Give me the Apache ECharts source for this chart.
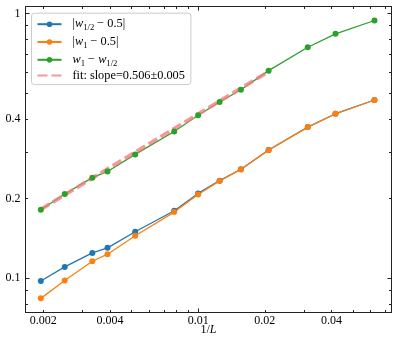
<!DOCTYPE html>
<html>
<head>
<meta charset="utf-8">
<script src="https://cdn.jsdelivr.net/npm/echarts@6/dist/echarts.min.js"></script>
<style>
html,body{margin:0;padding:0;background:#fff;}
#c{width:399px;height:349px;}
</style>
</head>
<body>
<div id="c"></div>
<script>
// ---- data ----
var invL = [0.00195, 0.0025, 0.00333, 0.0039, 0.0052, 0.0078, 0.01, 0.0125, 0.0156, 0.0208, 0.03125, 0.0417, 0.0625];
var wHalf = [0.0976, 0.1103, 0.1246, 0.1302, 0.1497, 0.1798, 0.209, 0.2335, 0.258, 0.305, 0.372, 0.418, 0.471];
var wOne = [0.0839, 0.098, 0.1159, 0.1232, 0.1446, 0.1777, 0.207, 0.233, 0.2575, 0.3045, 0.3721, 0.4178, 0.471];
var wDiff = [0.1813, 0.208, 0.2397, 0.253, 0.2935, 0.358, 0.4124, 0.4628, 0.515, 0.608, 0.745, 0.8374, 0.9403];
var fitX = [0.00195, 0.0208];
var fitY = [0.182, 0.603];

var xLabelVals = [0.002, 0.004, 0.01, 0.02, 0.04];
var xMajorTicks = [0.01];
var xMinorTicks = [0.002, 0.003, 0.004, 0.005, 0.006, 0.007, 0.008, 0.009, 0.02, 0.03, 0.04, 0.05, 0.06, 0.07];
var yLabelVals = [0.1, 0.2, 0.4, 1];
var yMajorTicks = [0.1, 1];
var yMinorTicks = [0.08, 0.09, 0.2, 0.3, 0.4, 0.5, 0.6, 0.7, 0.8, 0.9];

var seriesNames = ['|w1/2 - 0.5|', '|w1 - 0.5|', 'w1 - w1/2', 'fit: slope=0.506±0.005'];
var legendRich = [
  '{n||}{i|w}{s|1/2}{n| \u2212 0.5|}',
  '{n||}{i|w}{s|1}{n| \u2212 0.5|}',
  '{i|w}{s|1}{n| \u2212 }{i|w}{s|1/2}',
  '{n|fit: slope=0.506±0.005}'
];
// ---------------------------------------

var FONT = 'Liberation Serif';
var AX = '#222';
var xMin = 0.001663, xMax = 0.0746, yMin = 0.0742, yMax = 1.062;

function pairs(xs, ys){ return xs.map(function(x,i){ return [x, ys[i]]; }); }
function fmt(v){ return String(+v.toPrecision(6)); }

function xAx(pos, ticks, len, opts){
  var a = {
    type: 'log', logBase: 10, position: pos, min: xMin, max: xMax,
    gridIndex: 0,
    axisLine: {show: !!opts.line, lineStyle: {color: AX, width: 1}},
    axisTick: {show: true, inside: true, length: len, customValues: ticks, lineStyle: {color: AX, width: 1}},
    axisLabel: {show: false},
    splitLine: {show: false}, minorTick: {show: false}, minorSplitLine: {show: false}
  };
  if (opts.labels) {
    a.axisLabel = {show: true, customValues: xLabelVals, formatter: fmt, margin: 2,
      fontFamily: FONT, fontSize: 12, color: '#000', lineHeight: 12};
  }
  if (opts.name) {
    a.name = '1/{i|L}';
    a.nameLocation = 'middle';
    a.nameGap = 11.5;
    a.nameMoveOverlap = false;
    a.nameTextStyle = {fontFamily: FONT, fontSize: 12, color: '#000', lineHeight: 12,
      rich: {i: {fontStyle: 'italic', fontFamily: FONT, fontSize: 12, color: '#000', lineHeight: 12}}};
  }
  return a;
}
function yAx(pos, ticks, len, opts){
  var a = {
    type: 'log', logBase: 10, position: pos, min: yMin, max: yMax,
    gridIndex: 0,
    axisLine: {show: !!opts.line, lineStyle: {color: AX, width: 1}},
    axisTick: {show: true, inside: true, length: len, customValues: ticks, lineStyle: {color: AX, width: 1}},
    axisLabel: {show: false},
    splitLine: {show: false}, minorTick: {show: false}, minorSplitLine: {show: false}
  };
  if (opts.labels) {
    a.axisLabel = {show: true, customValues: yLabelVals, formatter: fmt, margin: 5,
      fontFamily: FONT, fontSize: 12, color: '#000'};
  }
  return a;
}

var chart = echarts.init(document.getElementById('c'), null, {renderer: 'canvas'});
var lineW = 1.3, symS = 6;
function dataSeries(name, ys, color){
  return {
    name: name, type: 'line', data: pairs(invL, ys),
    symbol: 'circle', symbolSize: symS, showSymbol: true,
    lineStyle: {color: color, width: lineW},
    itemStyle: {color: color},
    emphasis: {disabled: true}, silent: true
  };
}

chart.setOption({
  animation: false,
  backgroundColor: '#fff',
  grid: {left: 25.5, right: 7.5, top: 6.5, bottom: 36.5, containLabel: false, outerBoundsMode: 'none'},
  xAxis: [
    xAx('bottom', xMajorTicks, 4, {line: true, labels: true, name: true}),
    xAx('bottom', xMinorTicks, 2.5, {}),
    xAx('top', xMajorTicks, 4, {line: true}),
    xAx('top', xMinorTicks, 2.5, {})
  ],
  yAxis: [
    yAx('left', yMajorTicks, 4, {line: true, labels: true}),
    yAx('left', yMinorTicks, 2.5, {}),
    yAx('right', yMajorTicks, 4, {line: true}),
    yAx('right', yMinorTicks, 2.5, {})
  ],
  legend: {
    show: true, orient: 'vertical', left: 31.5, top: 13.2,
    data: seriesNames,
    itemWidth: 24, itemHeight: 7, itemGap: 1.8,
    padding: [3, 6, 3, 5],
    backgroundColor: 'rgba(255,255,255,0.8)',
    borderColor: '#cccccc', borderWidth: 1, borderRadius: 3,
    selectedMode: false,
    formatter: function(name){ return legendRich[seriesNames.indexOf(name)]; },
    textStyle: {
      fontFamily: FONT, fontSize: 12.3, color: '#000', padding: [0, 0, 0, 6],
      rich: {
        n: {fontFamily: FONT, fontSize: 12.3, color: '#000', lineHeight: 16},
        i: {fontFamily: FONT, fontSize: 12.3, color: '#000', fontStyle: 'italic', lineHeight: 16},
        s: {fontFamily: FONT, fontSize: 8.7, color: '#000', lineHeight: 9, padding: [7, 0, 0, 0]}
      }
    }
  },
  series: [
    dataSeries(seriesNames[0], wHalf, '#1f77b4'),
    dataSeries(seriesNames[1], wOne, '#ff7f0e'),
    dataSeries(seriesNames[2], wDiff, '#2ca02c'),
    {
      name: seriesNames[3], type: 'line', data: pairs(fitX, fitY),
      symbol: 'none', showSymbol: false,
      lineStyle: {color: '#f08080', width: 3.8, type: [10, 4], opacity: 0.8},
      itemStyle: {color: '#f08080', opacity: 0},
      emphasis: {disabled: true}, silent: true, z: 3
    }
  ]
});
</script>
</body>
</html>
